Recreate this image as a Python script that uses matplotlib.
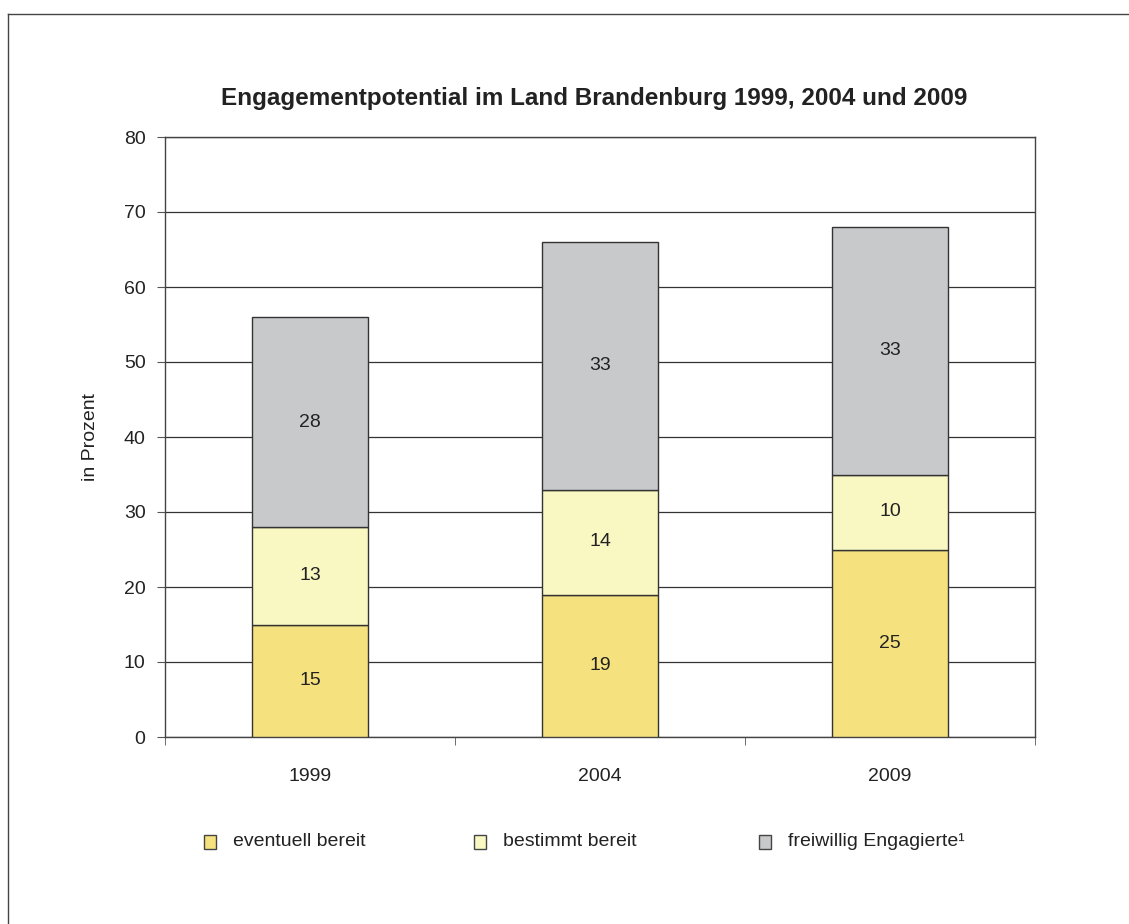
import numpy as np
import matplotlib
matplotlib.use('Agg')
import matplotlib.pyplot as plt
from matplotlib.lines import Line2D

plt.rcParams['font.family'] = ['Liberation Sans', 'DejaVu Sans']

# Daten
jahre = ['1999', '2004', '2009']
eventuell = [15, 19, 25]
bestimmt = [13, 14, 10]
engagiert = [28, 33, 33]
serien = ['eventuell bereit', 'bestimmt bereit', 'freiwillig Engagierte¹']
farben = ['#F5E27F', '#F9F7C2', '#C8C9CB']

fig = plt.figure(figsize=(11.29, 9.24), dpi=100)
ax = fig.add_axes([165 / 1129, 1 - 737 / 924, 870 / 1129, 600 / 924])

x = np.arange(len(jahre))
unten = np.zeros(len(jahre))
for werte, farbe in zip([eventuell, bestimmt, engagiert], farben):
    bars = ax.bar(x, werte, 0.4, bottom=unten, color=farbe, edgecolor='#333333',
                  linewidth=1.0, zorder=3)
    for b, w in zip(bars, werte):
        ax.text(b.get_x() + b.get_width() / 2, b.get_y() + w / 2, str(w),
                ha='center', va='center', fontsize=14, color='#222222', zorder=4)
    unten += np.array(werte)

ax.set_xlim(-0.5, 2.5)
ax.set_ylim(0, 80)
ax.set_yticks(range(0, 81, 10))
ax.set_xticks(x)
ax.set_xticklabels(jahre)
ax.set_xticks([-0.5, 0.5, 1.5, 2.5], minor=True)
ax.tick_params(axis='x', which='major', length=0, pad=22, labelsize=14, colors='#222222')
ax.tick_params(axis='x', which='minor', length=6, color='#555555', direction='out')
ax.tick_params(axis='y', length=6, color='#555555', labelsize=14, labelcolor='#222222', pad=8)
ax.yaxis.grid(True, color='#333333', linewidth=0.9, zorder=0)
for s in ax.spines.values():
    s.set_color('#444444')
    s.set_linewidth(1.0)
ax.set_ylabel('in Prozent', fontsize=14, color='#222222', labelpad=18)

fig.text(594 / 1129, 1 - 98 / 924, 'Engagementpotential im Land Brandenburg 1999, 2004 und 2009',
         ha='center', va='center', fontsize=17.5, fontweight='bold', color='#222222')

# Legende
for i, (name, farbe) in enumerate(zip(serien, farben)):
    lx = [210, 480, 765][i] / 1129
    ly = 1 - 842 / 924
    fig.patches.append(plt.Rectangle((lx - 6 / 1129, ly - 7 / 924), 12 / 1129, 14 / 924,
                                     transform=fig.transFigure, facecolor=farbe,
                                     edgecolor='#444444', linewidth=1.0))
    fig.text(lx + 23 / 1129, ly, name, ha='left', va='center', fontsize=14, color='#222222')

# Rahmen
fig.add_artist(Line2D([8 / 1129, 8 / 1129], [0, 1 - 14 / 924], transform=fig.transFigure,
                      color='#444444', linewidth=1.0))
fig.add_artist(Line2D([8 / 1129, 1], [1 - 14 / 924, 1 - 14 / 924], transform=fig.transFigure,
                      color='#444444', linewidth=1.0))

fig.savefig('out.png', dpi=100)
